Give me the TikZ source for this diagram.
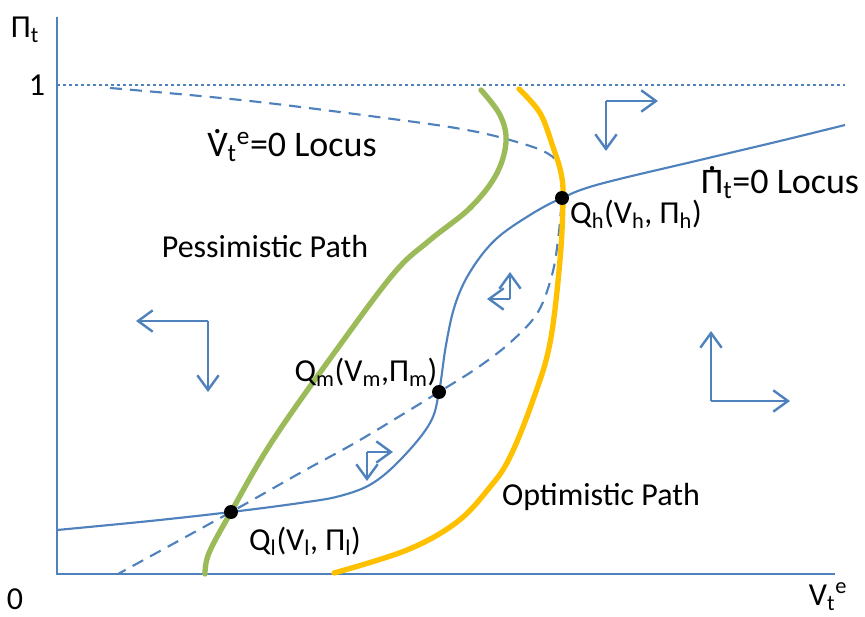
\documentclass[tikz,border=0pt]{standalone}
\usepackage{fontspec}
\setmainfont{Carlito}
\usetikzlibrary{arrows.meta}

\definecolor{locusblue}{HTML}{4F81BD}
\definecolor{pessgreen}{HTML}{9BBB59}
\definecolor{optorange}{HTML}{FFC000}

% time derivative dot over a letter
\newcommand{\topdot}[1]{\leavevmode\setbox0\hbox{#1}\hbox to\wd0{\hss\raisebox{0.64em}{.}\hss}\kern-\wd0\box0}

\begin{document}
\begin{tikzpicture}[
    x=0.75pt, y=-0.75pt,
    text=black,
    font=\fontsize{24}{29}\selectfont,
    >={Straight Barb[length=11pt,width=16pt]},
    axis/.style={draw=locusblue, line width=2pt},
    locus/.style={draw=locusblue, line width=1.6pt},
    pathline/.style={line width=4pt, line cap=round},
    eqdot/.style={circle, fill=black, minimum size=10.5pt, inner sep=0pt},
    flowarrow/.style={->, draw=locusblue, line width=1.8pt},
    lbl/.style={inner sep=0pt},
    locuslbl/.style={inner sep=0pt, font=\fontsize{27}{32}\selectfont},
]
\useasboundingbox (0,0) rectangle (865,617);

% ==================== AXES ====================
\coordinate (origin) at (57,574);
\coordinate (ytop)   at (57,17);
\coordinate (xend)   at (835,574);
\draw[axis] (ytop) -- (origin) -- (xend);

\node[lbl] (ylab)  at (25,30)  {Π\textsubscript{t}};
\node[lbl] (one)   at (37,85)  {1};
\node[lbl] (zero)  at (15,599) {0};
\node[lbl] (xlab)  at (828,597) {V\textsubscript{t}\textsuperscript{e}};

% dotted line at 1
\coordinate (oneL) at (57,85);
\coordinate (oneR) at (845,85);
\draw[locusblue, line width=2pt, dash pattern=on 2pt off 2.5pt] (oneL) -- (oneR);

% ==================== EQUILIBRIA ====================
\coordinate (Ql) at (231,512);
\coordinate (Qm) at (439,392);
\coordinate (Qh) at (562,198);

% V-dot locus (dashed)
\draw[locus, dash pattern=on 9pt off 6pt] plot[smooth, tension=0.6] coordinates {
    (110,88) (250,101) (400,120) (467,130) (510,140) (543,151) (558,163)
    (563,182) (Qh) (558,240) (552,275) (538,312) (513,340) (480,366)
    (Qm) (360,440) (300,473) (Ql) (118,574)};

% Pi-dot locus (solid)
\draw[locus] plot[smooth, tension=0.6] coordinates {
    (57,530) (150,521) (Ql) (300,503) (340,496) (373,483) (403,457)
    (430,423) (Qm) (446,345) (455,305) (470,272) (495,240) (530,215)
    (Qh) (600,184) (700,160) (780,141) (845,125)};

% Pessimistic path
\draw[pathline, pessgreen] plot[smooth, tension=0.6] coordinates {
    (481,90) (500,115) (506,142) (496,175) (470,208) (430,240) (395,272)
    (340,345) (273,440) (Ql) (209,553) (205,574)};

% Optimistic path
\draw[pathline, optorange] plot[smooth, tension=0.6] coordinates {
    (519,89) (540,113) (553,147) (561,173) (563,198) (560,260) (550,343)
    (533,400) (510,457) (490,487) (457,522) (407,550) (334,573)};

\node[eqdot] (Qldot) at (Ql) {};
\node[eqdot] (Qmdot) at (Qm) {};
\node[eqdot] (Qhdot) at (Qh) {};

% ==================== LABELS ====================
\node[locuslbl] (vlocus) at (292,146) {\topdot{V}\textsubscript{t}\textsuperscript{e}=0 Locus};
\node[locuslbl] (plocus) at (780,183) {\topdot{Π}\textsubscript{t}=0 Locus};
\node[lbl] (Qhlab)  at (636,214) {Q\textsubscript{h}(V\textsubscript{h}, Π\textsubscript{h})};
\node[lbl] (Qmlab)  at (366,372) {Q\textsubscript{m}(V\textsubscript{m},Π\textsubscript{m})};
\node[lbl] (Qllab)  at (305,541) {Q\textsubscript{l}(V\textsubscript{l}, Π\textsubscript{l})};
\node[lbl] (pess)   at (265,247) {Pessimistic Path};
\node[lbl] (opt)    at (601,497) {Optimistic Path};

% ==================== FLOW ARROWS ====================
\coordinate (fa1) at (208,321);
\coordinate (fa1x) at (136,321);
\coordinate (fa1y) at (208,392);
\draw[flowarrow] (fa1) -- (fa1x);
\draw[flowarrow] (fa1) -- (fa1y);

\coordinate (fa2) at (606,101);
\coordinate (fa2x) at (658,101);
\coordinate (fa2y) at (606,151);
\draw[flowarrow] (fa2) -- (fa2x);
\draw[flowarrow] (fa2) -- (fa2y);

\coordinate (fa3) at (711,401);
\coordinate (fa3x) at (790,401);
\coordinate (fa3y) at (711,331);
\draw[flowarrow] (fa3) -- (fa3x);
\draw[flowarrow] (fa3) -- (fa3y);

\coordinate (fa4) at (367,452);
\coordinate (fa4x) at (393,452);
\coordinate (fa4y) at (367,481);
\draw[flowarrow] (fa4) -- (fa4x);
\draw[flowarrow] (fa4) -- (fa4y);

\coordinate (fa5) at (510,299);
\coordinate (fa5x) at (487,299);
\coordinate (fa5y) at (510,272);
\draw[flowarrow] (fa5) -- (fa5x);
\draw[flowarrow] (fa5) -- (fa5y);

\end{tikzpicture}
\end{document}
